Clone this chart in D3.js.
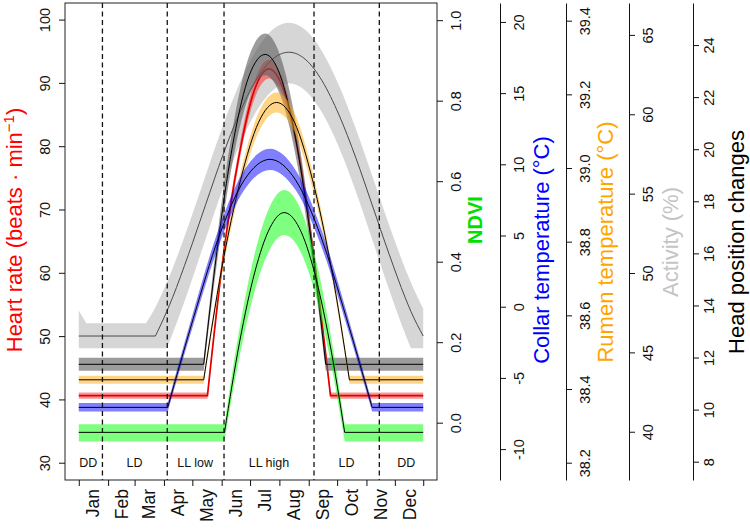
<!DOCTYPE html>
<html>
<head>
<meta charset="utf-8">
<script src="https://cdn.jsdelivr.net/npm/d3@7"></script>
<style>
  body { margin: 0; background: #fff; }
  svg { display: block; font-family: "Liberation Sans", Arial, sans-serif; }
</style>
</head>
<body>
<div id="app"></div>
<script>
'use strict'

// months (day of year)
const months = ['Jan', 'Feb', 'Mar', 'Apr', 'May', 'Jun', 'Jul', 'Aug', 'Sep', 'Oct', 'Nov', 'Dec']
const monthStarts = [1, 32, 60, 91, 121, 152, 182, 213, 244, 274, 305, 335, 365]
const monthMids = [16, 46, 74.5, 105.5, 136, 166.5, 197, 228, 258.5, 289, 319.5, 350]

// light phases
const phaseBreaks = [26, 94.5, 154.5, 249.6, 318.6]
const phaseNames = ['DD', 'LD', 'LL low', 'LL high', 'LD', 'DD']
const phaseMids = [11, 60, 124, 202, 284, 347]

// axis ticks
const hrTicks = [30, 40, 50, 60, 70, 80, 90, 100]
const ndviTicks = [0, 0.2, 0.4, 0.6, 0.8, 1.0]
const collarTicks = [-10, -5, 0, 5, 10, 15, 20]
const rumenTicks = [38.2, 38.4, 38.6, 38.8, 39.0, 39.2, 39.4]
const activityTicks = [40, 45, 50, 55, 60, 65]
const headTicks = [8, 10, 12, 14, 16, 18, 20, 22, 24]

// activity (%)
const actDays = [1, 9, 72, 82, 94, 100, 117, 135, 153, 170, 188, 205, 223, 241, 258, 276, 294, 311, 329, 346, 352, 365]
const actMean = [46.03, 46.03, 46.03, 46.03, 47.58, 48.44, 51.18, 54.30, 57.38, 59.96, 62.12, 63.43, 63.91, 63.43, 62.12, 59.96, 57.22, 54.30, 51.18, 48.44, 47.58, 46.03]
const actHigh = [47.64, 46.83, 46.83, 47.85, 49.40, 50.27, 53.01, 56.14, 59.23, 61.81, 63.97, 65.29, 65.77, 65.29, 63.97, 61.81, 59.06, 56.14, 53.01, 50.27, 49.40, 47.75]
const actLow = [45.26, 45.26, 45.26, 45.26, 45.26, 46.15, 48.94, 52.13, 55.28, 57.91, 60.12, 61.45, 61.95, 61.45, 60.12, 57.91, 55.11, 52.13, 48.94, 46.15, 45.26, 45.26]

// heart rate
const hrDays = [1, 137, 153, 170, 186, 202, 218, 234, 250, 267, 365]
const hrMean = [40.6, 40.6, 61.8, 78.2, 88.6, 92.2, 88.6, 78.2, 61.8, 40.6, 40.6]
const hrHigh = [41.1, 41.1, 62.7, 79.4, 90.0, 93.7, 90.0, 79.4, 62.7, 41.1, 41.1]
const hrLow = [40.1, 40.1, 60.9, 77.0, 87.2, 90.7, 87.2, 77.0, 60.9, 40.1, 40.1]

// head position changes
const headDays = [1, 133, 149, 165, 181, 198, 214, 230, 246, 262, 365]
const headMean = [11.74, 11.74, 16.64, 20.43, 22.82, 23.64, 22.82, 20.43, 16.64, 11.74, 11.74]
const headHigh = [11.99, 11.99, 17.12, 21.08, 23.58, 24.44, 23.58, 21.08, 17.12, 11.99, 11.99]
const headLow = [11.49, 11.49, 16.16, 19.78, 22.06, 22.84, 22.06, 19.78, 16.16, 11.49, 11.49]

// rumen temperature
const rumenDays = [1, 133, 152, 172, 191, 210, 229, 248, 268, 287, 365]
const rumenMean = [38.425, 38.425, 38.726, 38.968, 39.124, 39.178, 39.124, 38.968, 38.726, 38.425, 38.425]
const rumenHigh = [38.436, 38.436, 38.743, 38.990, 39.150, 39.205, 39.150, 38.990, 38.743, 38.436, 38.436]
const rumenLow = [38.414, 38.414, 38.709, 38.945, 39.098, 39.151, 39.098, 38.945, 38.709, 38.414, 38.414]

// collar temperature
const collarDays = [1, 95, 122, 149, 176, 203, 230, 257, 284, 311, 365]
const collarMean = [-7.07, -7.07, -0.83, 4.90, 8.91, 10.35, 8.91, 4.90, -0.83, -7.07, -7.07]
const collarHigh = [-6.77, -6.77, -0.37, 5.50, 9.61, 11.09, 9.61, 5.50, -0.37, -6.77, -6.77]
const collarLow = [-7.36, -7.36, -1.28, 4.30, 8.21, 9.61, 8.21, 4.30, -1.28, -7.36, -7.36]

// NDVI
const ndviDays = [1, 155, 171, 187, 203, 218, 234, 250, 266, 282, 365]
const ndviMean = [-0.024, -0.024, 0.201, 0.374, 0.484, 0.522, 0.484, 0.374, 0.201, -0.024, -0.024]
const ndviHigh = [-0.004, -0.004, 0.236, 0.421, 0.538, 0.578, 0.538, 0.421, 0.236, -0.004, -0.004]
const ndviLow = [-0.047, -0.047, 0.165, 0.328, 0.431, 0.466, 0.431, 0.328, 0.165, -0.047, -0.047]

const W = 750
const H = 530
const box = {left: 65, right: 437, top: 3, bottom: 480}

const svg = d3.select('#app')
  .append('svg')
  .attr('width', W)
  .attr('height', H)

const x = d3.scaleLinear().domain([-13.56, 379.56]).range([box.left, box.right])
const yHR = d3.scaleLinear().domain([27.27, 102.62]).range([box.bottom, box.top])
const yNDVI = d3.scaleLinear().domain([-0.1424, 1.0427]).range([box.bottom, box.top])
const yCollar = d3.scaleLinear().domain([-12.17, 21.33]).range([box.bottom, box.top])
const yRumen = d3.scaleLinear().domain([38.153, 39.448]).range([box.bottom, box.top])
const yAct = d3.scaleLinear().domain([36.96, 67.01]).range([box.bottom, box.top])
const yHead = d3.scaleLinear().domain([7.297, 25.615]).range([box.bottom, box.top])

// flat parts straight, rising/falling parts smooth
const edge = function (days, vals, y) {
  const p = days.map((d, i) => [x(d), y(vals[i])])
  let s = 'M' + p[0]
  let i = 0
  while (i < p.length - 1) {
    if (vals[i + 1] === vals[i]) {
      s += 'L' + p[i + 1]
      i++
    } else {
      let j = i
      while (j < p.length - 1 && vals[j + 1] !== vals[j]) j++
      const seg = d3.line().curve(d3.curveMonotoneX)(p.slice(i, j + 1))
      s += seg.slice(seg.search(/[LC]/))
      i = j
    }
  }
  return s
}

const band = function (days, lo, hi, y) {
  const top = edge(days, hi, y)
  const bot = edge(days.slice().reverse(), lo.slice().reverse(), y)
  return top + 'L' + bot.slice(1) + 'Z'
}

const series = [
  {days: actDays, mean: actMean, lo: actLow, hi: actHigh, y: yAct, fill: '#d6d6d6', line: '#4a4a4a', lw: 1},
  {days: hrDays, mean: hrMean, lo: hrLow, hi: hrHigh, y: yHR, fill: 'rgba(255,0,0,0.42)', line: '#e00000', lw: 1.7},
  {days: headDays, mean: headMean, lo: headLow, hi: headHigh, y: yHead, fill: 'rgba(95,95,95,0.62)', line: '#000', lw: 1},
  {days: rumenDays, mean: rumenMean, lo: rumenLow, hi: rumenHigh, y: yRumen, fill: 'rgba(255,165,0,0.48)', line: '#000', lw: 1},
  {days: collarDays, mean: collarMean, lo: collarLow, hi: collarHigh, y: yCollar, fill: 'rgba(0,0,255,0.5)', line: '#000', lw: 1},
  {days: ndviDays, mean: ndviMean, lo: ndviLow, hi: ndviHigh, y: yNDVI, fill: 'rgba(0,255,0,0.5)', line: '#000', lw: 1}
]

const plot = svg.append('g')

series.forEach(function (s) {
  plot.append('path')
    .attr('d', band(s.days, s.lo, s.hi, s.y))
    .attr('fill', s.fill)
    .attr('stroke', 'none')
  plot.append('path')
    .attr('d', edge(s.days, s.mean, s.y))
    .attr('fill', 'none')
    .attr('stroke', s.line)
    .attr('stroke-width', s.lw)
})

// phase boundaries
plot.selectAll('line.phase')
  .data(phaseBreaks)
  .enter().append('line')
  .attr('class', 'phase')
  .attr('x1', d => x(d)).attr('x2', d => x(d))
  .attr('y1', box.top).attr('y2', box.bottom)
  .attr('stroke', '#111')
  .attr('stroke-width', 1.3)
  .attr('stroke-dasharray', '5,3.5')

plot.selectAll('text.phase')
  .data(phaseNames)
  .enter().append('text')
  .attr('class', 'phase')
  .attr('x', (d, i) => x(phaseMids[i]))
  .attr('y', 467)
  .attr('text-anchor', 'middle')
  .attr('font-size', 12.5)
  .attr('fill', '#111')
  .text(d => d)

svg.append('rect')
  .attr('x', box.left).attr('y', box.top)
  .attr('width', box.right - box.left).attr('height', box.bottom - box.top)
  .attr('fill', 'none')
  .attr('stroke', '#222')
  .attr('stroke-width', 1)

// axes
const rotLabels = function (g, off) {
  g.attr('font-family', null).attr('font-size', 14.5)
  g.selectAll('text')
    .attr('x', null).attr('y', null).attr('dy', null)
    .attr('transform', 'translate(' + off + ',0) rotate(-90)')
    .attr('text-anchor', 'middle')
    .attr('fill', '#111')
  g.selectAll('line').attr('stroke', '#111')
  g.select('.domain').attr('stroke', '#111')
}

const addAxis = function (gen, pos, off, noDomain) {
  const g = svg.append('g')
    .attr('transform', 'translate(' + pos + ',0)')
    .call(gen.tickSizeInner(6).tickSizeOuter(0))
  rotLabels(g, off)
  if (noDomain) g.select('.domain').remove()
  return g
}

addAxis(d3.axisLeft(yHR).tickValues(hrTicks).tickFormat(d3.format('d')), box.left, -15, true)
addAxis(d3.axisRight(yNDVI).tickValues(ndviTicks).tickFormat(d3.format('.1f')), box.right, 24, true)
addAxis(d3.axisRight(yCollar).tickValues(collarTicks).tickFormat(d => String(d)), 500, 24, false)
addAxis(d3.axisRight(yRumen).tickValues(rumenTicks).tickFormat(d3.format('.1f')), 566, 24, false)
addAxis(d3.axisRight(yAct).tickValues(activityTicks).tickFormat(d3.format('d')), 629, 24, false)
addAxis(d3.axisRight(yHead).tickValues(headTicks).tickFormat(d3.format('d')), 693, 21, false)

// month axis
const xg = svg.append('g')
  .attr('transform', 'translate(0,' + box.bottom + ')')
  .call(d3.axisBottom(x).tickValues(monthStarts).tickFormat('').tickSizeInner(6).tickSizeOuter(0))
xg.select('.domain').remove()
xg.selectAll('line').attr('stroke', '#111')

svg.selectAll('text.month')
  .data(months)
  .enter().append('text')
  .attr('class', 'month')
  .attr('transform', (d, i) => 'translate(' + (x(monthMids[i]) + 6.5) + ',489) rotate(-90)')
  .attr('text-anchor', 'end')
  .attr('font-size', 17.5)
  .attr('fill', '#111')
  .text(d => d)

// axis titles
const title = function (tx, ty, color, size, text, bold) {
  return svg.append('text')
    .attr('transform', 'translate(' + tx + ',' + ty + ') rotate(-90)')
    .attr('text-anchor', 'middle')
    .attr('font-size', size)
    .attr('font-weight', bold ? 'bold' : 'normal')
    .attr('fill', color)
    .text(text)
}

const hrTitle = title(22, 230, '#ff0000', 22, '', false)
hrTitle.append('tspan').text('Heart rate (beats \u00b7 min')
hrTitle.append('tspan').attr('dy', -8).attr('font-size', 15).text('\u22121')
hrTitle.append('tspan').attr('dy', 8).text(')')

title(482, 220, '#00e000', 20, 'NDVI', true)
title(549, 250, '#0000ff', 22, 'Collar temperature (\u00b0C)', false)
title(613, 242, '#ffa500', 22, 'Rumen temperature (\u00b0C)', false)
title(678, 242, '#c4c4c4', 22, 'Activity (%)', false)
title(744, 242, '#000', 22, 'Head position changes', false)
</script>
</body>
</html>
